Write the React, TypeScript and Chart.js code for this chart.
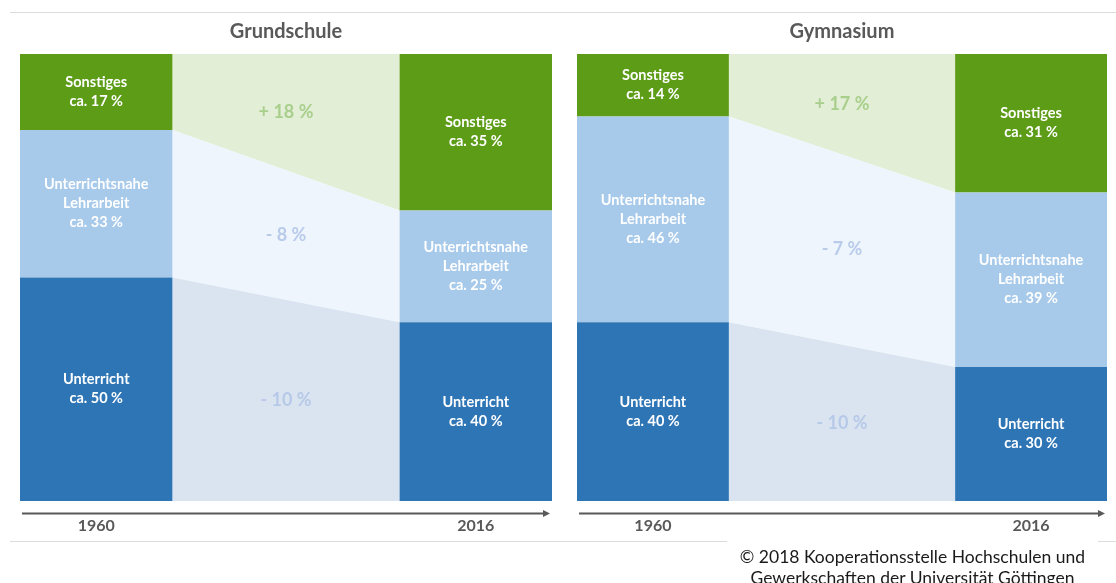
import React, { useEffect, useRef } from 'react';
import { Chart, registerables } from 'chart.js';

Chart.register(...registerables);

// ---- data ----
const YEARS = ['1960', '2016'];
const CATEGORIES = ['Unterricht', 'Unterrichtsnahe Lehrarbeit', 'Sonstiges'];
const CATEGORY_LINES = [['Unterricht'], ['Unterrichtsnahe', 'Lehrarbeit'], ['Sonstiges']];

const GRUNDSCHULE_UNTERRICHT = [50, 40];
const GRUNDSCHULE_NAHE = [33, 25];
const GRUNDSCHULE_SONSTIGES = [17, 35];

const GYMNASIUM_UNTERRICHT = [40, 30];
const GYMNASIUM_NAHE = [46, 39];
const GYMNASIUM_SONSTIGES = [14, 31];

const COPYRIGHT = ['© 2018 Kooperationsstelle Hochschulen und', 'Gewerkschaften der Universität Göttingen'];

// ---- styles ----
const BAR_COLORS = ['#2E75B6', '#A7C9EA', '#5C9C17'];
const AREA_COLORS = ['#DAE4F0', '#EEF5FC', '#E2EED6'];
const DELTA_COLORS = ['#B7C9E8', '#B9CBEA', '#A9CF8C'];
const FONT = 'Lato';

const BAR_W = 1;
const GAP = 1.49;
const XPOS = [BAR_W / 2, BAR_W + GAP + BAR_W / 2];
const X_MAX = 2 * BAR_W + GAP;
const CANVAS_H = 561;

type PanelProps = { title: string; series: number[][]; left: number; width: number };

function Panel({ title, series, left, width }: PanelProps) {
  const ref = useRef<HTMLCanvasElement | null>(null);

  useEffect(() => {
    const canvas = ref.current;
    if (!canvas) return;

    const barSets = CATEGORIES.map((c, k) => ({
      type: 'bar' as const,
      label: c,
      stack: 'bars',
      data: XPOS.map((x, i) => ({ x, y: series[k][i] })),
      backgroundColor: BAR_COLORS[k],
      borderWidth: 0,
      categoryPercentage: 1,
      barPercentage: BAR_W / (XPOS[1] - XPOS[0]),
      order: 0,
    }));

    const areaSets = CATEGORIES.map((c, k) => ({
      type: 'line' as const,
      label: c + ' Veränderung',
      stack: 'areas',
      data: [
        { x: BAR_W, y: series[k][0] },
        { x: BAR_W + GAP, y: series[k][1] },
      ],
      fill: k === 0 ? 'origin' : '-1',
      backgroundColor: AREA_COLORS[k],
      borderColor: 'rgba(0,0,0,0)',
      borderWidth: 0,
      pointRadius: 0,
      tension: 0,
      order: 1,
    }));

    const overlay = {
      id: 'overlay',
      afterDatasetsDraw(chart: any) {
        const ctx = chart.ctx as CanvasRenderingContext2D;
        const xs = chart.scales.x;
        const ys = chart.scales.y;
        const area = chart.chartArea;
        ctx.save();
        // bar labels
        ctx.textAlign = 'center';
        ctx.textBaseline = 'middle';
        ctx.fillStyle = '#FFFFFF';
        ctx.font = `bold 14.5px ${FONT}`;
        const lh = 19;
        CATEGORIES.forEach((_, k) => {
          const meta = chart.getDatasetMeta(k);
          meta.data.forEach((el: any, i: number) => {
            const p = el.getProps(['x', 'y', 'base'], true);
            const lines = [...CATEGORY_LINES[k], `ca. ${series[k][i]} %`];
            const cy = (p.y + p.base) / 2;
            lines.forEach((t, j) => {
              ctx.fillText(t, p.x, cy + (j - (lines.length - 1) / 2) * lh);
            });
          });
        });
        // delta labels
        ctx.font = `bold 18px ${FONT}`;
        const cx = xs.getPixelForValue(BAR_W + GAP / 2);
        CATEGORIES.forEach((_, k) => {
          let lo0 = 0;
          let lo1 = 0;
          for (let m = 0; m < k; m++) {
            lo0 += series[m][0];
            lo1 += series[m][1];
          }
          const hi0 = lo0 + series[k][0];
          const hi1 = lo1 + series[k][1];
          const mid = (lo0 + hi0 + lo1 + hi1) / 4;
          const d = series[k][1] - series[k][0];
          const txt = `${d >= 0 ? '+' : '-'} ${Math.abs(d)} %`;
          ctx.fillStyle = DELTA_COLORS[k];
          ctx.fillText(txt, cx, ys.getPixelForValue(mid));
        });
        // time arrow
        const ay = area.bottom + 12.5;
        const x0 = area.left + 2;
        const x1 = area.right - 2;
        ctx.strokeStyle = '#595959';
        ctx.fillStyle = '#595959';
        ctx.lineWidth = 2;
        ctx.beginPath();
        ctx.moveTo(x0, ay);
        ctx.lineTo(x1 - 4, ay);
        ctx.stroke();
        ctx.beginPath();
        ctx.moveTo(x1, ay);
        ctx.lineTo(x1 - 7, ay - 3.5);
        ctx.lineTo(x1 - 7, ay + 3.5);
        ctx.closePath();
        ctx.fill();
        ctx.restore();
      },
    };

    const chart = new Chart(canvas, {
      type: 'bar',
      data: { datasets: [...barSets, ...areaSets] as any },
      options: {
        responsive: false,
        animation: false,
        events: [],
        layout: { padding: { top: 0, bottom: 10.8, left: 0, right: 0 } },
        plugins: {
          legend: { display: false },
          tooltip: { enabled: false },
          title: {
            display: true,
            text: title,
            color: '#595959',
            font: { family: FONT, size: 20, weight: 'bold' },
            padding: { top: 20, bottom: 10 },
          },
        },
        scales: {
          x: {
            type: 'linear',
            min: 0,
            max: X_MAX,
            offset: false,
            grid: { display: false, drawTicks: false },
            border: { display: false },
            afterBuildTicks: (s: any) => {
              s.ticks = XPOS.map((v) => ({ value: v }));
            },
            ticks: {
              autoSkip: false,
              maxRotation: 0,
              padding: 15,
              color: '#595959',
              font: { family: FONT, size: 16, weight: 'bold' },
              callback: (v: any) => YEARS[XPOS.indexOf(Number(v))] ?? '',
            },
          },
          y: {
            type: 'linear',
            min: 0,
            max: 100,
            display: false,
          },
        },
      } as any,
      plugins: [overlay],
    });
    return () => chart.destroy();
  }, [title, series, left, width]);

  return (
    <canvas
      ref={ref}
      width={width}
      height={CANVAS_H}
      style={{ position: 'absolute', left, top: 0, width, height: CANVAS_H }}
    />
  );
}

const GRUNDSCHULE = [GRUNDSCHULE_UNTERRICHT, GRUNDSCHULE_NAHE, GRUNDSCHULE_SONSTIGES];
const GYMNASIUM = [GYMNASIUM_UNTERRICHT, GYMNASIUM_NAHE, GYMNASIUM_SONSTIGES];

export default function App() {
  const line = (l: number, t: number, w: number) => (
    <div style={{ position: 'absolute', left: l, top: t, width: w, height: 1, background: '#DCDCDC' }} />
  );
  return (
    <div
      style={{
        position: 'absolute',
        left: 0,
        top: 0,
        width: 1116,
        height: 583,
        overflow: 'hidden',
        background: '#FFFFFF',
      }}
    >
      {line(10, 12, 1106)}
      {line(10, 541, 717)}
      {line(1098, 541, 18)}
      <Panel title="Grundschule" series={GRUNDSCHULE} left={20} width={532} />
      <Panel title="Gymnasium" series={GYMNASIUM} left={577} width={530} />
      <div
        style={{
          position: 'absolute',
          left: 727,
          top: 546,
          width: 371,
          textAlign: 'center',
          fontFamily: FONT,
          fontSize: 17.5,
          lineHeight: '21px',
          color: '#1A1A1A',
          whiteSpace: 'nowrap',
        }}
      >
        {COPYRIGHT.map((t) => (
          <div key={t}>{t}</div>
        ))}
      </div>
    </div>
  );
}
